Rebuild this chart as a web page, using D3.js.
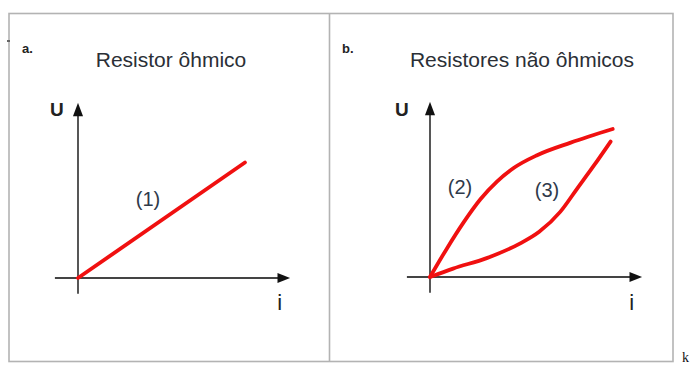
<!DOCTYPE html>
<html>
<head>
<meta charset="utf-8">
<script src="https://cdn.jsdelivr.net/npm/d3@7"></script>
<style>
  body { margin: 0; background: #fff; }
  text { font-family: "Liberation Sans", Arial, sans-serif; }
</style>
</head>
<body>
<div id="chart"></div>
<script>
// panel titles and labels
const panelTags = ["a.", "b."];
const panelTitles = ["Resistor ôhmico", "Resistores não ôhmicos"];

// curve (1): ohmic, straight line (i, U in arbitrary units)
const curve1I = [0, 7.95];
const curve1U = [0, 5.5];

// curve (2): concave down
const curve2I = [0, 0.8, 1.6, 2.4, 3.2, 4.0, 5.1, 6.7, 8.7];
const curve2U = [0, 1.35, 2.6, 3.7, 4.55, 5.2, 5.8, 6.4, 7.05];

// curve (3): concave up
const curve3I = [0, 1.1, 2.7, 4.3, 5.2, 6.2, 7.0, 7.8, 8.6];
const curve3U = [0, 0.4, 0.9, 1.6, 2.15, 3.1, 4.2, 5.3, 6.45];

const curveLabels = ["(1)", "(2)", "(3)"];

const width = 691, height = 367;
const unit = 21; // px per unit

const svg = d3.select("#chart")
    .append("svg")
    .attr("width", width)
    .attr("height", height);

/*
FRAME
*/
svg.append("rect")
    .attr("x", 9).attr("y", 13.5)
    .attr("width", 664).attr("height", 348)
    .attr("fill", "none")
    .attr("stroke", "#b3b3b3")
    .attr("stroke-width", 1.6);

svg.append("line")
    .attr("x1", 329.5).attr("x2", 329.5)
    .attr("y1", 13.5).attr("y2", 361.5)
    .attr("stroke", "#b3b3b3")
    .attr("stroke-width", 1.6);

// little stray mark on the left border
svg.append("rect")
    .attr("x", 7).attr("y", 40).attr("width", 3).attr("height", 2)
    .attr("fill", "#666");

// stray "k" at bottom right
svg.append("text")
    .attr("x", 682).attr("y", 362)
    .style("font-family", "'Liberation Serif', serif")
    .style("font-size", "14px")
    .attr("fill", "#111")
    .text("k");

/*
PANELS
*/
function makeScales(ox, oy) {
    const x = d3.scaleLinear().domain([0, 10]).range([ox, ox + 10 * unit]);
    const y = d3.scaleLinear().domain([0, 10]).range([oy, oy - 10 * unit]);
    return { x, y };
}

function drawAxes(g, s) {
    const axisColor = "#444";
    // i axis
    g.append("line")
        .attr("x1", s.x(-1.1)).attr("x2", s.x(9.6))
        .attr("y1", s.y(0)).attr("y2", s.y(0))
        .attr("stroke", axisColor).attr("stroke-width", 1.8);
    g.append("path")
        .attr("d", `M${s.x(10.1)},${s.y(0)} L${s.x(9.5)},${s.y(0) - 5} L${s.x(9.5)},${s.y(0) + 5} Z`)
        .attr("fill", "#111");
    // U axis
    g.append("line")
        .attr("x1", s.x(0)).attr("x2", s.x(0))
        .attr("y1", s.y(-0.75)).attr("y2", s.y(7.8))
        .attr("stroke", axisColor).attr("stroke-width", 1.8);
    g.append("path")
        .attr("d", `M${s.x(0)},${s.y(8.35)} L${s.x(0) - 5},${s.y(7.7)} L${s.x(0) + 5},${s.y(7.7)} Z`)
        .attr("fill", "#111");
}

function drawCurve(g, s, is, us) {
    const pts = is.map((v, k) => [v, us[k]]);
    const line = d3.line()
        .x(d => s.x(d[0]))
        .y(d => s.y(d[1]))
        .curve(d3.curveMonotoneX);
    g.append("path")
        .attr("d", line(pts))
        .attr("fill", "none")
        .attr("stroke", "#f01010")
        .attr("stroke-width", 3.8)
        .attr("stroke-linecap", "round");
}

const panels = [
    { ox: 78, oy: 278, tagX: 22, titleX: 171, uX: 50 },
    { ox: 430, oy: 277, tagX: 342, titleX: 522, uX: 395 }
];

panels.forEach(function (p, k) {
    const g = svg.append("g");
    const s = makeScales(p.ox, p.oy);

    g.append("text")
        .attr("x", p.tagX).attr("y", 53)
        .style("font-size", "13px").style("font-weight", "bold")
        .attr("fill", "#222")
        .text(panelTags[k]);

    g.append("text")
        .attr("x", p.titleX).attr("y", 67)
        .attr("text-anchor", "middle")
        .style("font-size", "21px")
        .attr("fill", "#2b2f36")
        .text(panelTitles[k]);

    g.append("text")
        .attr("x", p.uX).attr("y", 116)
        .style("font-size", "19px").style("font-weight", "bold")
        .attr("fill", "#222")
        .text("U");

    g.append("text")
        .attr("x", s.x(9.6)).attr("y", 310)
        .attr("text-anchor", "middle")
        .style("font-size", "22px")
        .attr("fill", "#222")
        .text("i");

    drawAxes(g, s);
    p.scales = s;
    p.g = g;
});

// (1)
drawCurve(panels[0].g, panels[0].scales, curve1I, curve1U);
// (2) and (3)
drawCurve(panels[1].g, panels[1].scales, curve2I, curve2U);
drawCurve(panels[1].g, panels[1].scales, curve3I, curve3U);

// curve labels
const labelPos = [
    { x: 148, y: 206 },
    { x: 460, y: 194 },
    { x: 547, y: 197 }
];
labelPos.forEach(function (d, k) {
    svg.append("text")
        .attr("x", d.x).attr("y", d.y)
        .attr("text-anchor", "middle")
        .style("font-size", "20px")
        .attr("fill", "#2f3a4a")
        .text(curveLabels[k]);
});
</script>
</body>
</html>
